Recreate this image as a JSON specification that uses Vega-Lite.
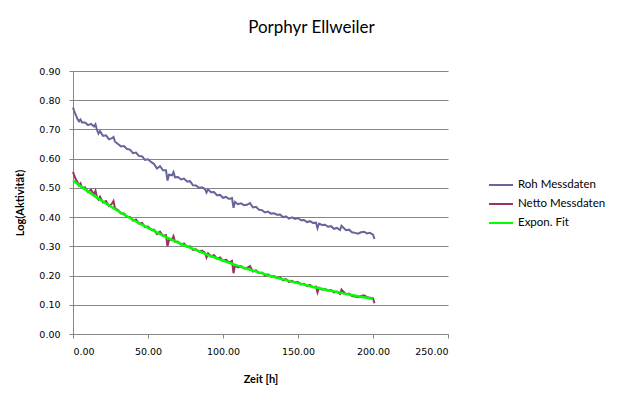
{
  "$schema": "https://vega.github.io/schema/vega-lite/v6.json",
  "width": 375,
  "height": 263,
  "autosize": {"type": "none"},
  "padding": {"left": 73, "top": 71, "right": 176, "bottom": 65},
  "background": "white",
  "title": {"text": "Porphyr Ellweiler", "font": "Lato", "fontSize": 17, "fontWeight": "normal", "color": "#000000", "anchor": "middle", "dx": 51, "offset": 29},
  "config": {
    "view": {"stroke": null},
    "axis": {"labelFont": "DejaVu Sans", "labelFontSize": 9.5, "labelColor": "#000000", "titleFont": "Lato", "titleFontSize": 11, "titleFontWeight": "bold", "titleColor": "#000000", "domainColor": "#868686", "tickColor": "#868686", "gridColor": "#868686", "gridWidth": 1},
    "legend": {"labelFont": "Lato", "labelFontSize": 11.5, "labelColor": "#000000"}
  },
  "datasets": {
    "mess": [
      {"t":0,"Roh Messdaten":0.775,"Netto Messdaten":0.555},
      {"t":1,"Roh Messdaten":0.760,"Netto Messdaten":0.540},
      {"t":2,"Roh Messdaten":0.748,"Netto Messdaten":0.528},
      {"t":3,"Roh Messdaten":0.736,"Netto Messdaten":0.520},
      {"t":4,"Roh Messdaten":0.728,"Netto Messdaten":0.508},
      {"t":5,"Roh Messdaten":0.734,"Netto Messdaten":0.515},
      {"t":6,"Roh Messdaten":0.724,"Netto Messdaten":0.500},
      {"t":8,"Roh Messdaten":0.724,"Netto Messdaten":0.502},
      {"t":10,"Roh Messdaten":0.715,"Netto Messdaten":0.486},
      {"t":12,"Roh Messdaten":0.719,"Netto Messdaten":0.494},
      {"t":14,"Roh Messdaten":0.710,"Netto Messdaten":0.478},
      {"t":15,"Roh Messdaten":0.718,"Netto Messdaten":0.490},
      {"t":16,"Roh Messdaten":0.698,"Netto Messdaten":0.468},
      {"t":17,"Roh Messdaten":0.686,"Netto Messdaten":0.460},
      {"t":18,"Roh Messdaten":0.694,"Netto Messdaten":0.470},
      {"t":20,"Roh Messdaten":0.678,"Netto Messdaten":0.450},
      {"t":22,"Roh Messdaten":0.680,"Netto Messdaten":0.455},
      {"t":24,"Roh Messdaten":0.666,"Netto Messdaten":0.438},
      {"t":26,"Roh Messdaten":0.670,"Netto Messdaten":0.446},
      {"t":27,"Roh Messdaten":0.674,"Netto Messdaten":0.455},
      {"t":28,"Roh Messdaten":0.658,"Netto Messdaten":0.430},
      {"t":30,"Roh Messdaten":0.650,"Netto Messdaten":0.424},
      {"t":32,"Roh Messdaten":0.642,"Netto Messdaten":0.412},
      {"t":34,"Roh Messdaten":0.643,"Netto Messdaten":0.412},
      {"t":36,"Roh Messdaten":0.633,"Netto Messdaten":0.400},
      {"t":38,"Roh Messdaten":0.631,"Netto Messdaten":0.400},
      {"t":40,"Roh Messdaten":0.619,"Netto Messdaten":0.388},
      {"t":42,"Roh Messdaten":0.621,"Netto Messdaten":0.392},
      {"t":44,"Roh Messdaten":0.609,"Netto Messdaten":0.378},
      {"t":46,"Roh Messdaten":0.608,"Netto Messdaten":0.380},
      {"t":48,"Roh Messdaten":0.596,"Netto Messdaten":0.366},
      {"t":50,"Roh Messdaten":0.598,"Netto Messdaten":0.368},
      {"t":52,"Roh Messdaten":0.589,"Netto Messdaten":0.358},
      {"t":54,"Roh Messdaten":0.582,"Netto Messdaten":0.357},
      {"t":56,"Roh Messdaten":0.566,"Netto Messdaten":0.342},
      {"t":58,"Roh Messdaten":0.574,"Netto Messdaten":0.350},
      {"t":60,"Roh Messdaten":0.560,"Netto Messdaten":0.336},
      {"t":62,"Roh Messdaten":0.560,"Netto Messdaten":0.338},
      {"t":63,"Roh Messdaten":0.525,"Netto Messdaten":0.300},
      {"t":64,"Roh Messdaten":0.545,"Netto Messdaten":0.322},
      {"t":66,"Roh Messdaten":0.543,"Netto Messdaten":0.324},
      {"t":67,"Roh Messdaten":0.554,"Netto Messdaten":0.335},
      {"t":68,"Roh Messdaten":0.536,"Netto Messdaten":0.316},
      {"t":70,"Roh Messdaten":0.537,"Netto Messdaten":0.316},
      {"t":72,"Roh Messdaten":0.529,"Netto Messdaten":0.306},
      {"t":74,"Roh Messdaten":0.532,"Netto Messdaten":0.310},
      {"t":76,"Roh Messdaten":0.522,"Netto Messdaten":0.298},
      {"t":78,"Roh Messdaten":0.523,"Netto Messdaten":0.300},
      {"t":80,"Roh Messdaten":0.509,"Netto Messdaten":0.288},
      {"t":82,"Roh Messdaten":0.508,"Netto Messdaten":0.290},
      {"t":84,"Roh Messdaten":0.500,"Netto Messdaten":0.282},
      {"t":86,"Roh Messdaten":0.502,"Netto Messdaten":0.285},
      {"t":88,"Roh Messdaten":0.496,"Netto Messdaten":0.278},
      {"t":89,"Roh Messdaten":0.484,"Netto Messdaten":0.262},
      {"t":90,"Roh Messdaten":0.495,"Netto Messdaten":0.276},
      {"t":92,"Roh Messdaten":0.485,"Netto Messdaten":0.266},
      {"t":94,"Roh Messdaten":0.486,"Netto Messdaten":0.270},
      {"t":96,"Roh Messdaten":0.475,"Netto Messdaten":0.258},
      {"t":98,"Roh Messdaten":0.476,"Netto Messdaten":0.262},
      {"t":100,"Roh Messdaten":0.466,"Netto Messdaten":0.250},
      {"t":102,"Roh Messdaten":0.469,"Netto Messdaten":0.254},
      {"t":104,"Roh Messdaten":0.462,"Netto Messdaten":0.245},
      {"t":106,"Roh Messdaten":0.465,"Netto Messdaten":0.250},
      {"t":107,"Roh Messdaten":0.432,"Netto Messdaten":0.208},
      {"t":108,"Roh Messdaten":0.452,"Netto Messdaten":0.234},
      {"t":110,"Roh Messdaten":0.444,"Netto Messdaten":0.228},
      {"t":112,"Roh Messdaten":0.447,"Netto Messdaten":0.232},
      {"t":114,"Roh Messdaten":0.441,"Netto Messdaten":0.224},
      {"t":116,"Roh Messdaten":0.442,"Netto Messdaten":0.226},
      {"t":118,"Roh Messdaten":0.448,"Netto Messdaten":0.232},
      {"t":120,"Roh Messdaten":0.433,"Netto Messdaten":0.214},
      {"t":122,"Roh Messdaten":0.435,"Netto Messdaten":0.218},
      {"t":124,"Roh Messdaten":0.425,"Netto Messdaten":0.208},
      {"t":126,"Roh Messdaten":0.424,"Netto Messdaten":0.210},
      {"t":128,"Roh Messdaten":0.416,"Netto Messdaten":0.200},
      {"t":130,"Roh Messdaten":0.419,"Netto Messdaten":0.204},
      {"t":132,"Roh Messdaten":0.412,"Netto Messdaten":0.196},
      {"t":134,"Roh Messdaten":0.413,"Netto Messdaten":0.198},
      {"t":136,"Roh Messdaten":0.408,"Netto Messdaten":0.192},
      {"t":138,"Roh Messdaten":0.409,"Netto Messdaten":0.194},
      {"t":140,"Roh Messdaten":0.400,"Netto Messdaten":0.184},
      {"t":142,"Roh Messdaten":0.403,"Netto Messdaten":0.188},
      {"t":144,"Roh Messdaten":0.395,"Netto Messdaten":0.178},
      {"t":146,"Roh Messdaten":0.399,"Netto Messdaten":0.182},
      {"t":148,"Roh Messdaten":0.394,"Netto Messdaten":0.176},
      {"t":150,"Roh Messdaten":0.397,"Netto Messdaten":0.178},
      {"t":152,"Roh Messdaten":0.389,"Netto Messdaten":0.170},
      {"t":154,"Roh Messdaten":0.390,"Netto Messdaten":0.172},
      {"t":156,"Roh Messdaten":0.383,"Netto Messdaten":0.164},
      {"t":158,"Roh Messdaten":0.386,"Netto Messdaten":0.168},
      {"t":160,"Roh Messdaten":0.380,"Netto Messdaten":0.160},
      {"t":162,"Roh Messdaten":0.381,"Netto Messdaten":0.162},
      {"t":163,"Roh Messdaten":0.362,"Netto Messdaten":0.142},
      {"t":164,"Roh Messdaten":0.378,"Netto Messdaten":0.158},
      {"t":166,"Roh Messdaten":0.373,"Netto Messdaten":0.152},
      {"t":168,"Roh Messdaten":0.374,"Netto Messdaten":0.154},
      {"t":170,"Roh Messdaten":0.367,"Netto Messdaten":0.148},
      {"t":172,"Roh Messdaten":0.369,"Netto Messdaten":0.150},
      {"t":174,"Roh Messdaten":0.360,"Netto Messdaten":0.142},
      {"t":176,"Roh Messdaten":0.363,"Netto Messdaten":0.145},
      {"t":178,"Roh Messdaten":0.356,"Netto Messdaten":0.137},
      {"t":179,"Roh Messdaten":0.370,"Netto Messdaten":0.152},
      {"t":180,"Roh Messdaten":0.365,"Netto Messdaten":0.146},
      {"t":182,"Roh Messdaten":0.355,"Netto Messdaten":0.136},
      {"t":184,"Roh Messdaten":0.357,"Netto Messdaten":0.138},
      {"t":186,"Roh Messdaten":0.348,"Netto Messdaten":0.130},
      {"t":188,"Roh Messdaten":0.346,"Netto Messdaten":0.128},
      {"t":190,"Roh Messdaten":0.343,"Netto Messdaten":0.126},
      {"t":192,"Roh Messdaten":0.348,"Netto Messdaten":0.130},
      {"t":194,"Roh Messdaten":0.350,"Netto Messdaten":0.132},
      {"t":196,"Roh Messdaten":0.344,"Netto Messdaten":0.126},
      {"t":198,"Roh Messdaten":0.346,"Netto Messdaten":0.124},
      {"t":200,"Roh Messdaten":0.340,"Netto Messdaten":0.122},
      {"t":201,"Roh Messdaten":0.325,"Netto Messdaten":0.105}
    ],
    "fit": [
      {"t":0,"series":"Expon. Fit","v":0.525},
      {"t":5,"series":"Expon. Fit","v":0.506},
      {"t":10,"series":"Expon. Fit","v":0.488},
      {"t":15,"series":"Expon. Fit","v":0.470},
      {"t":20,"series":"Expon. Fit","v":0.453},
      {"t":25,"series":"Expon. Fit","v":0.437},
      {"t":30,"series":"Expon. Fit","v":0.421},
      {"t":35,"series":"Expon. Fit","v":0.406},
      {"t":40,"series":"Expon. Fit","v":0.391},
      {"t":45,"series":"Expon. Fit","v":0.377},
      {"t":50,"series":"Expon. Fit","v":0.363},
      {"t":55,"series":"Expon. Fit","v":0.350},
      {"t":60,"series":"Expon. Fit","v":0.337},
      {"t":65,"series":"Expon. Fit","v":0.325},
      {"t":70,"series":"Expon. Fit","v":0.313},
      {"t":75,"series":"Expon. Fit","v":0.302},
      {"t":80,"series":"Expon. Fit","v":0.291},
      {"t":85,"series":"Expon. Fit","v":0.281},
      {"t":90,"series":"Expon. Fit","v":0.270},
      {"t":95,"series":"Expon. Fit","v":0.261},
      {"t":100,"series":"Expon. Fit","v":0.251},
      {"t":105,"series":"Expon. Fit","v":0.242},
      {"t":110,"series":"Expon. Fit","v":0.233},
      {"t":115,"series":"Expon. Fit","v":0.225},
      {"t":120,"series":"Expon. Fit","v":0.217},
      {"t":125,"series":"Expon. Fit","v":0.209},
      {"t":130,"series":"Expon. Fit","v":0.201},
      {"t":135,"series":"Expon. Fit","v":0.194},
      {"t":140,"series":"Expon. Fit","v":0.187},
      {"t":145,"series":"Expon. Fit","v":0.180},
      {"t":150,"series":"Expon. Fit","v":0.174},
      {"t":155,"series":"Expon. Fit","v":0.168},
      {"t":160,"series":"Expon. Fit","v":0.161},
      {"t":165,"series":"Expon. Fit","v":0.156},
      {"t":170,"series":"Expon. Fit","v":0.150},
      {"t":175,"series":"Expon. Fit","v":0.145},
      {"t":180,"series":"Expon. Fit","v":0.139},
      {"t":185,"series":"Expon. Fit","v":0.134},
      {"t":190,"series":"Expon. Fit","v":0.129},
      {"t":195,"series":"Expon. Fit","v":0.125},
      {"t":200,"series":"Expon. Fit","v":0.120}
    ]
  },
  "encoding": {
    "x": {"field": "t", "type": "quantitative", "title": "Zeit [h]",
      "scale": {"domain": [0, 250], "nice": false},
      "axis": {"values": [0, 50, 100, 150, 200, 250], "format": ".2f", "grid": false, "tickSize": 4, "labelPadding": 8, "titlePadding": 18}},
    "y": {"field": "v", "type": "quantitative", "title": "Log(Aktivität)",
      "scale": {"domain": [0, 0.9], "nice": false},
      "axis": {"values": [0, 0.1, 0.2, 0.3, 0.4, 0.5, 0.6, 0.7, 0.8, 0.9], "format": ".2f", "tickSize": 4, "labelPadding": 9, "titlePadding": 13}},
    "color": {"field": "series", "type": "nominal",
      "scale": {"domain": ["Roh Messdaten", "Netto Messdaten", "Expon. Fit"], "range": ["#666699", "#993366", "#00FF00"]},
      "legend": {"title": null, "orient": "none", "legendX": 415, "legendY": 101, "symbolType": "stroke", "symbolSize": 576, "symbolStrokeWidth": 2, "rowPadding": -9, "labelOffset": 4}}
  },
  "layer": [
    {
      "data": {"name": "mess"},
      "transform": [{"fold": ["Roh Messdaten", "Netto Messdaten"], "as": ["series", "v"]}],
      "mark": {"type": "line", "strokeWidth": 2}
    },
    {
      "data": {"name": "fit"},
      "mark": {"type": "line", "strokeWidth": 2.5}
    }
  ]
}
